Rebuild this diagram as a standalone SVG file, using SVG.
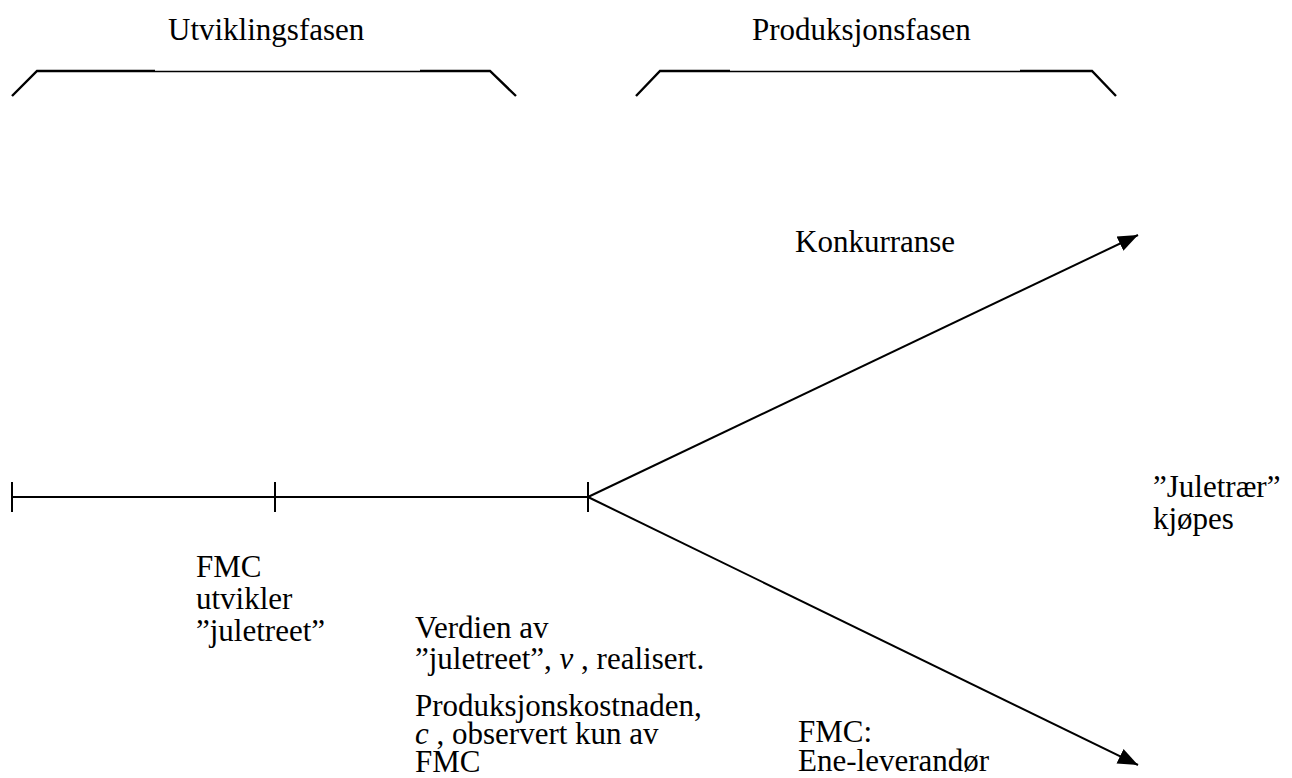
<svg xmlns="http://www.w3.org/2000/svg" width="1292" height="778" viewBox="0 0 1292 778">
<style>
text{font-family:"Liberation Serif","Times New Roman",serif;font-size:31px;fill:#000}
.thin{stroke:#000;stroke-width:1.3;fill:none}
.thick{stroke:#000;stroke-width:2.4;fill:none}
.line{stroke:#000;stroke-width:2;fill:none}
.it{font-style:italic}
</style>
<defs>
<marker id="arr" markerUnits="userSpaceOnUse" markerWidth="22" markerHeight="18" refX="20" refY="9" orient="auto">
<path d="M0,1 L20,9 L0,17 Z" fill="#000"/>
</marker>
</defs>
<rect width="1292" height="778" fill="#fff"/>
<g id="phase-dev">
<text x="168" y="40">Utviklingsfasen</text>
<path class="thick" d="M12,96 L37,71 L155,71"/>
<path class="thin" d="M155,71.5 L420,71.5"/>
<path class="thick" d="M420,71 L490,71 L516,96"/>
</g>
<g id="phase-prod">
<text x="752" y="40">Produksjonsfasen</text>
<path class="thick" d="M636,96 L660,71 L730,71"/>
<path class="thin" d="M730,71.5 L1020,71.5"/>
<path class="thick" d="M1020,71 L1092,71 L1116,96"/>
</g>
<g id="connectors">
<path class="line" d="M12,497 L588,497"/>
<path class="line" d="M12,482 L12,512 M275,482 L275,512 M588,482 L588,512"/>
<path class="line" d="M588,497 L1138,235" marker-end="url(#arr)"/>
<path class="line" d="M588,497 L1138,765" marker-end="url(#arr)"/>
</g>
<g id="konkurranse"><text x="795" y="252">Konkurranse</text></g>
<g id="juletraer">
<text x="1153" y="497">”Juletrær”</text>
<text x="1153" y="529">kjøpes</text>
</g>
<g id="fmc-utvikler">
<text x="196" y="577">FMC</text>
<text x="196" y="609">utvikler</text>
<text x="196" y="641">”juletreet”</text>
</g>
<g id="verdien">
<text x="415" y="638">Verdien av</text>
<text x="415" y="669">”juletreet”, <tspan class="it">v</tspan> , realisert.</text>
</g>
<g id="kostnad">
<text x="415" y="716">Produksjonskostnaden,</text>
<text x="415" y="744"> <tspan class="it">c</tspan> , observert kun av</text>
<text x="415" y="772">FMC</text>
</g>
<g id="ene">
<text x="798" y="742">FMC:</text>
<text x="798" y="771">Ene-leverandør</text>
</g>
</svg>
